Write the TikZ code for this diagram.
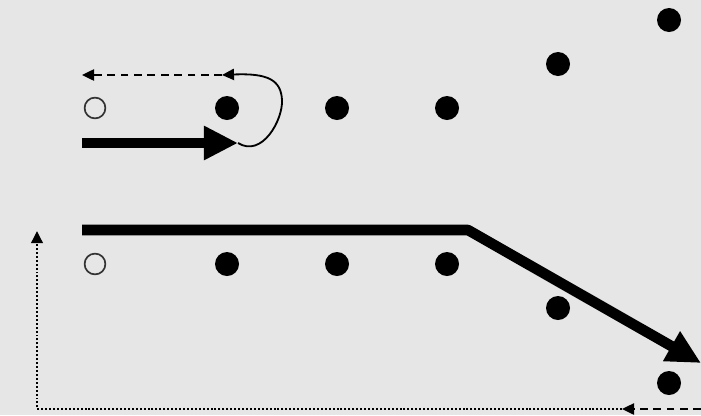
\documentclass[tikz,border=0pt]{standalone}
\usetikzlibrary{arrows.meta}
\definecolor{bg}{RGB}{230,230,230}
\tikzset{
  dot/.style={circle,fill=black,inner sep=0pt,minimum size=0.6cm},
  hole/.style={circle,draw=black!80,line width=1.2pt,inner sep=0pt,minimum size=0.52cm},
  thick path/.style={line width=7.5pt,-{Triangle[length=0.85cm,width=0.8cm]}},
  thin head/.style={-{Triangle[length=3mm,width=2.8mm]}},
}
\begin{document}
\begin{tikzpicture}[x=0.025cm,y=-0.025cm,line join=round]
\fill[bg] (0,0) rectangle (701,415);
\useasboundingbox (0,0) rectangle (701,415);
% top row
\node[hole] (t0) at (95,108) {};
\foreach \n/\x/\y in {1/227/108,2/337/108,3/447/108,4/558/64,5/669/20}
  \node[dot] (t\n) at (\x,\y) {};
% bottom row
\node[hole] (b0) at (95,264) {};
\foreach \n/\x/\y in {1/227/264,2/337/264,3/447/264,4/558/308,5/669/383}
  \node[dot] (b\n) at (\x,\y) {};
\path
(82,143) coordinate (TS)
(238,143) coordinate (TE)
(222,75) coordinate (TR)
(82,75) coordinate (TL)
(82,230) coordinate (BS)
(468,230) coordinate (BK)
(701,363) coordinate (BE)
(701,409) coordinate (RR)
(622,409) coordinate (RA)
(37,409) coordinate (RC)
(37,231) coordinate (RU)
;
% thick arrows
\draw[thick path] (TS) -- (TE);
\draw[thick path] (BS) -- (BK) -- (BE);
% return loop on top
\draw[line width=1.3pt,thin head]
(TE) .. controls (262,158) and (283,120) .. (282,100)
     .. controls (281,80) and (268,73) .. (TR);
\draw[line width=1.3pt,dash pattern=on 5.5pt off 4pt,thin head] (TR) -- (TL);
% return path at bottom
\draw[line width=1.3pt,dash pattern=on 5.5pt off 4pt,thin head] (RR) -- (RA);
\draw[line width=2pt,dash pattern=on 1.4pt off 1.4pt,thin head] (RA) -- (RC) -- (RU);
\end{tikzpicture}
\end{document}
